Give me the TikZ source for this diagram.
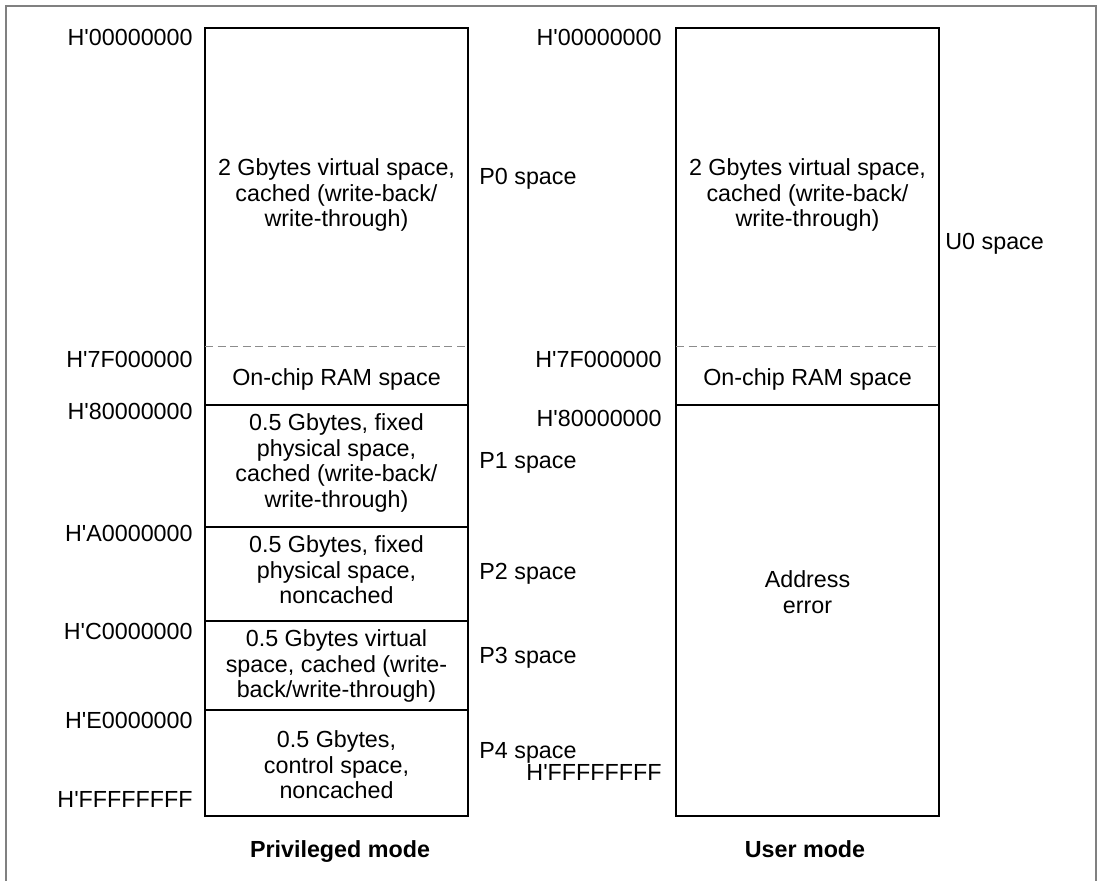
\documentclass[tikz,border=0pt]{standalone}
\usepackage{fontspec}
\setmainfont{Liberation Sans}
\usetikzlibrary{positioning}

\newcommand{\hx}{H\textquotesingle}

\begin{document}
\begin{tikzpicture}[
    x=0.5pt, y=-0.5pt,
    font=\fontsize{11.65}{12.75}\selectfont,
    addr/.style={anchor=base east, inner sep=0pt},
    spacelbl/.style={anchor=base west, inner sep=0pt},
    region/.style={align=center, inner sep=0pt},
    modelbl/.style={font=\fontsize{11.65}{12.75}\selectfont\bfseries, anchor=base, inner sep=0pt},
    mapline/.style={draw=black, line width=0.6pt},
    ramline/.style={draw=black!45, line width=0.5pt, dash pattern=on 4pt off 2.3pt},
    frameline/.style={draw=black!50, line width=0.7pt}
]

\useasboundingbox (0,0) rectangle (1102,881);
\draw[frameline] (6,881) -- (6,6) -- (1096,6) -- (1096,881);

% privileged mode map
\draw[mapline] (205,28) rectangle (468,816);
\draw[ramline] (205,347) -- (468,347);
\foreach \y in {405,527,621,710}
    \draw[mapline] (205,\y) -- (468,\y);

% user mode map
\draw[mapline] (676,28) rectangle (939,816);
\draw[ramline] (676,347) -- (939,347);
\draw[mapline] (676,405) -- (939,405);

% privileged mode regions
\node[region] (p0) at (336.5,195) {2 Gbytes virtual space,\\cached (write-back/\\write-through)};
\node[region] (pram) at (336.5,379) {On-chip RAM space};
\node[region] (p1) at (336.5,463) {0.5 Gbytes, fixed\\physical space,\\cached (write-back/\\write-through)};
\node[region] (p2) at (336.5,570) {0.5 Gbytes, fixed\\physical space,\\noncached};
\node[region] (p3) at (336.5,666) {0.5 Gbytes virtual\\space, cached (write-\\back/write-through)};
\node[region] (p4) at (336.5,765) {0.5 Gbytes,\\control space,\\noncached};

% user mode regions
\node[region] (u0) at (807.5,195) {2 Gbytes virtual space,\\cached (write-back/\\write-through)};
\node[region] (uram) at (807.5,379) {On-chip RAM space};
\node[region] (uerr) at (807.5,592) {Address\\error};

% addresses, privileged mode
\node[addr] (pa0) at (193,46) {\hx 00000000};
\node[addr] (pa7f) at (193,368) {\hx 7F000000};
\node[addr] (pa8) at (193,420) {\hx 80000000};
\node[addr] (paa) at (193,541) {\hx A0000000};
\node[addr] (pac) at (193,639) {\hx C0000000};
\node[addr] (pae) at (193,728) {\hx E0000000};
\node[addr] (paf) at (193,807) {\hx FFFFFFFF};

% addresses, user mode
\node[addr] (ua0) at (662,46) {\hx 00000000};
\node[addr] (ua7f) at (662,368) {\hx 7F000000};
\node[addr] (ua8) at (662,427) {\hx 80000000};
\node[addr] (uaf) at (662,780) {\hx FFFFFFFF};

% space names
\node[spacelbl] (sp0) at (479,185) {P0 space};
\node[spacelbl] (sp1) at (479,469) {P1 space};
\node[spacelbl] (sp2) at (479,579) {P2 space};
\node[spacelbl] (sp3) at (479,663) {P3 space};
\node[spacelbl] (sp4) at (479,758) {P4 space};
\node[spacelbl] (su0) at (945,250) {U0 space};

% modes
\node[modelbl] (priv) at (340,857) {Privileged mode};
\node[modelbl] (user) at (805,857) {User mode};

\end{tikzpicture}
\end{document}
